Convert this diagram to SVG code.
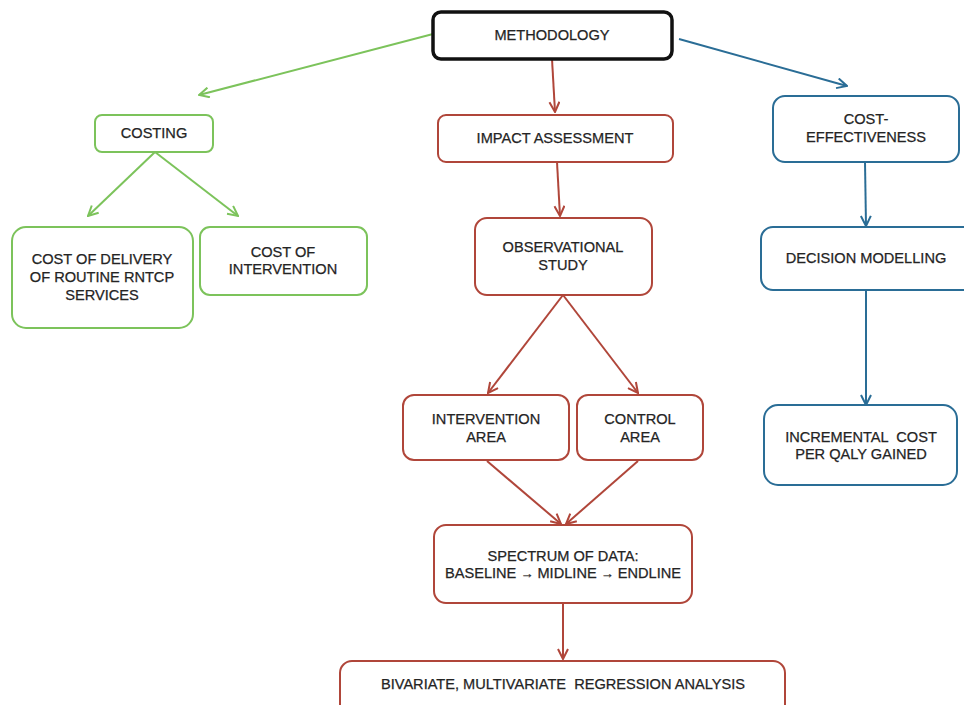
<svg xmlns="http://www.w3.org/2000/svg" width="964" height="705" viewBox="0 0 964 705">
<defs>
<style>
.t{font-family:"Liberation Sans",Arial,sans-serif;font-size:14.6px;fill:#242424;stroke:#242424;stroke-width:0.25;text-anchor:middle}
.g{fill:#fff;stroke:#7cc35b;stroke-width:2}
.r{fill:#fff;stroke:#b0463a;stroke-width:2}
.b{fill:#fff;stroke:#2a6d96;stroke-width:2}
.k{fill:#fff;stroke:#111;stroke-width:3.5}
.cg{stroke:#7cc35b;stroke-width:2;fill:none}
.cr{stroke:#b0463a;stroke-width:2;fill:none}
.cb{stroke:#2a6d96;stroke-width:2;fill:none}
</style>
<marker id="ag" viewBox="0 0 12 12" refX="11" refY="6" markerWidth="12" markerHeight="12" markerUnits="userSpaceOnUse" orient="auto"><path d="M1,1 L11,6 L1,11" fill="none" stroke="#7cc35b" stroke-width="2"/></marker>
<marker id="ar" viewBox="0 0 12 12" refX="11" refY="6" markerWidth="12" markerHeight="12" markerUnits="userSpaceOnUse" orient="auto"><path d="M1,1 L11,6 L1,11" fill="none" stroke="#b0463a" stroke-width="2"/></marker>
<marker id="ab" viewBox="0 0 12 12" refX="11" refY="6" markerWidth="12" markerHeight="12" markerUnits="userSpaceOnUse" orient="auto"><path d="M1,1 L11,6 L1,11" fill="none" stroke="#2a6d96" stroke-width="2"/></marker>
</defs>
<rect width="964" height="705" fill="#fff"/>
<g id="connectors">
<line class="cg" x1="433" y1="34" x2="199" y2="95" marker-end="url(#ag)"/>
<line class="cg" x1="155" y1="152" x2="88" y2="216" marker-end="url(#ag)"/>
<line class="cg" x1="155" y1="152" x2="238" y2="216" marker-end="url(#ag)"/>
<line class="cr" x1="552" y1="59" x2="555" y2="112" marker-end="url(#ar)"/>
<line class="cr" x1="557" y1="162" x2="560" y2="216" marker-end="url(#ar)"/>
<line class="cr" x1="563" y1="295" x2="488" y2="393" marker-end="url(#ar)"/>
<line class="cr" x1="563" y1="295" x2="638" y2="393" marker-end="url(#ar)"/>
<line class="cr" x1="487" y1="461" x2="561" y2="524" marker-end="url(#ar)"/>
<line class="cr" x1="638" y1="461" x2="566" y2="524" marker-end="url(#ar)"/>
<line class="cr" x1="563" y1="603" x2="563" y2="659" marker-end="url(#ar)"/>
<line class="cb" x1="679" y1="39" x2="847" y2="86" marker-end="url(#ab)"/>
<line class="cb" x1="865" y1="162" x2="866" y2="226" marker-end="url(#ab)"/>
<line class="cb" x1="866" y1="290" x2="866" y2="405" marker-end="url(#ab)"/>
</g>
<g id="methodology"><rect class="k" x="433" y="12" width="239" height="47" rx="8"/><text class="t" x="552" y="40">METHODOLOGY</text></g>
<g id="costing"><rect class="g" x="95" y="115" width="118" height="37" rx="7"/><text class="t" x="154" y="138">COSTING</text></g>
<g id="cost-delivery"><rect class="g" x="12" y="227" width="181" height="101" rx="14"/><text class="t" x="102" y="264">COST OF DELIVERY</text><text class="t" x="102" y="282">OF ROUTINE RNTCP</text><text class="t" x="102" y="300">SERVICES</text></g>
<g id="cost-intervention"><rect class="g" x="200" y="227" width="167" height="68" rx="10"/><text class="t" x="283" y="257">COST OF</text><text class="t" x="283" y="274">INTERVENTION</text></g>
<g id="impact"><rect class="r" x="438" y="115" width="235" height="47" rx="8"/><text class="t" x="555" y="143">IMPACT ASSESSMENT</text></g>
<g id="observational"><rect class="r" x="475" y="218" width="177" height="77" rx="12"/><text class="t" x="563" y="252">OBSERVATIONAL</text><text class="t" x="563" y="270">STUDY</text></g>
<g id="intervention-area"><rect class="r" x="403" y="395" width="166" height="65" rx="11"/><text class="t" x="486" y="424">INTERVENTION</text><text class="t" x="486" y="442">AREA</text></g>
<g id="control-area"><rect class="r" x="577" y="395" width="126" height="65" rx="11"/><text class="t" x="640" y="424">CONTROL</text><text class="t" x="640" y="442">AREA</text></g>
<g id="spectrum"><rect class="r" x="434" y="525" width="258" height="78" rx="12"/><text class="t" x="563" y="561">SPECTRUM OF DATA:</text><text class="t" x="563" y="578">BASELINE <tspan font-size="13" font-weight="bold">→</tspan> MIDLINE <tspan font-size="13" font-weight="bold">→</tspan> ENDLINE</text></g>
<g id="regression"><rect class="r" x="340" y="661" width="445" height="60" rx="12"/><text class="t" x="563" y="689" xml:space="preserve">BIVARIATE, MULTIVARIATE  REGRESSION ANALYSIS</text></g>
<g id="cost-effectiveness"><rect class="b" x="773" y="96" width="186" height="66" rx="12"/><text class="t" x="866" y="124">COST-</text><text class="t" x="866" y="142">EFFECTIVENESS</text></g>
<g id="decision"><rect class="b" x="761" y="227" width="230" height="63" rx="12"/><text class="t" x="866" y="263">DECISION MODELLING</text></g>
<g id="incremental"><rect class="b" x="764" y="405" width="193" height="80" rx="14"/><text class="t" x="861" y="442" xml:space="preserve">INCREMENTAL  COST</text><text class="t" x="861" y="459">PER QALY GAINED</text></g>
</svg>
